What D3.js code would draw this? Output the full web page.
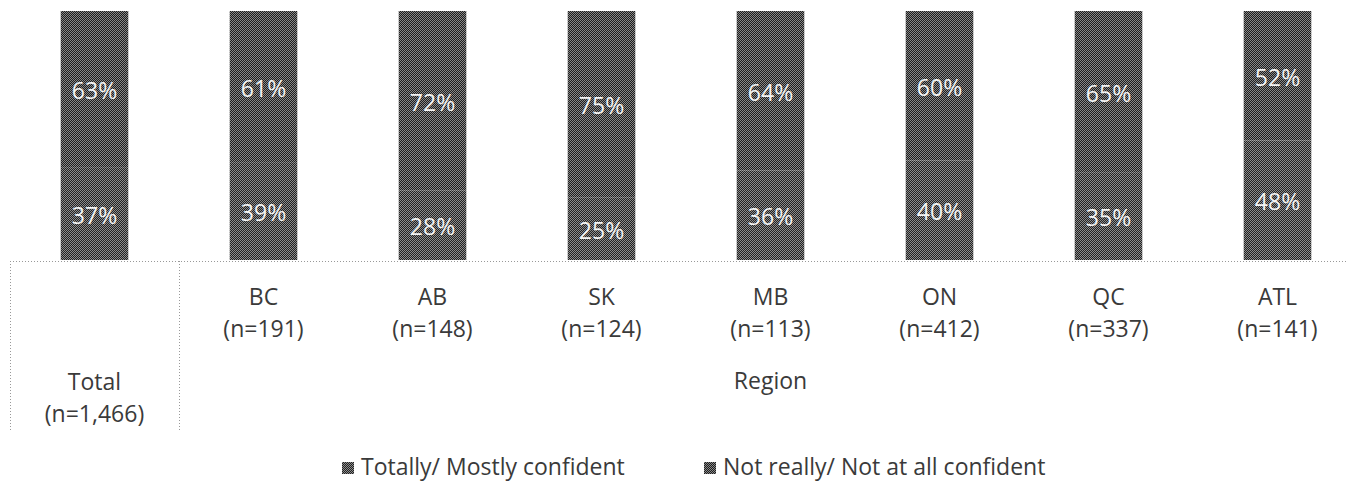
<!DOCTYPE html>
<html><head><meta charset="utf-8">
<script src="https://cdn.jsdelivr.net/npm/d3@7"></script>
<style>body{margin:0;background:#fff}svg{display:block}text{font-family:"Open Sans",sans-serif}</style>
</head><body>
<script>
const categories = ["Total","BC","AB","SK","MB","ON","QC","ATL"];
const categoryLabels = ["","BC","AB","SK","MB","ON","QC","ATL"];
const sampleSizes = ["(n=1,466)","(n=191)","(n=148)","(n=124)","(n=113)","(n=412)","(n=337)","(n=141)"];
const confident = [37,39,28,25,36,40,35,48];
const notConfident = [63,61,72,75,64,60,65,52];
const seriesNames = ["Totally/ Mostly confident","Not really/ Not at all confident"];

const W=1347,H=485,FS=23;
const svg=d3.select("body").append("svg").attr("width",W).attr("height",H);
const defs=svg.append("defs");
function pat(id,a,b){
  const p=defs.append("pattern").attr("id",id).attr("width",2).attr("height",2).attr("patternUnits","userSpaceOnUse");
  p.append("rect").attr("width",2).attr("height",2).attr("fill",a);
  p.append("rect").attr("width",1).attr("height",1).attr("fill",b);
  p.append("rect").attr("x",1).attr("y",1).attr("width",1).attr("height",1).attr("fill",b);
}
pat("p0","#222222","#8c8c8c");
pat("p1","#1e1e1e","#888888");
const fills=["url(#p0)","url(#p1)"];

const x=d3.scaleBand().domain(categories).range([10,1362]).paddingInner(0.6).paddingOuter(0.3);
const y=d3.scaleLinear().domain([0,100]).range([260,11]);
const data=categories.map((c,i)=>({cat:c,c0:confident[i],c1:notConfident[i]}));
const stack=d3.stack().keys(["c0","c1"])(data);

const g=svg.append("g");
stack.forEach((s,si)=>{
  g.selectAll(null).data(s).enter().append("rect")
   .attr("x",d=>x(d.data.cat)).attr("width",x.bandwidth())
   .attr("y",d=>y(d[1])).attr("height",d=>y(d[0])-y(d[1]))
   .attr("fill",fills[si]);
});
stack.forEach((s,si)=>{
  g.selectAll(null).data(s).enter().append("text")
   .attr("x",d=>x(d.data.cat)+x.bandwidth()/2)
   .attr("y",d=>(y(d[0])+y(d[1]))/2+10)
   .attr("text-anchor","middle").attr("font-size",FS).attr("fill","#f4f4f4")
   .text(d=>(d[1]-d[0])+"%");
});

// axis lines
function line(x1,y1,x2,y2){svg.append("line").attr("x1",x1).attr("y1",y1).attr("x2",x2).attr("y2",y2)
  .attr("stroke","#999").attr("stroke-dasharray","1,2").attr("stroke-width",1);}
line(10,261.5,W,261.5);
const step=x.step();
const sepX=x("BC")-(step-x.bandwidth())/2;
line(10.5,261,10.5,432);
line(sepX+0.5,261,sepX+0.5,432);

const ax=svg.append("g");
function lab(tx,ty,t){ax.append("text").attr("x",tx).attr("y",ty).attr("text-anchor","middle").attr("fill","#3a3a3a").attr("font-size",FS).text(t);}
categories.forEach((c,i)=>{
  const cx=x(c)+x.bandwidth()/2;
  if(i===0){ lab(cx,390,"Total"); lab(cx,422,sampleSizes[i]); }
  else { lab(cx,305,categoryLabels[i]); lab(cx,337,sampleSizes[i]); }
});
lab((x("BC")+x("ATL")+x.bandwidth())/2,389,"Region");

// legend
const lg=svg.append("g");
const lx=[342,704];
seriesNames.forEach((n,i)=>{
  lg.append("rect").attr("x",lx[i]).attr("y",462).attr("width",12).attr("height",12).attr("fill",fills[i]);
  lg.append("text").attr("x",lx[i]+19).attr("y",475).attr("font-size",FS).attr("fill","#3a3a3a").text(n);
});
</script>
</body></html>
